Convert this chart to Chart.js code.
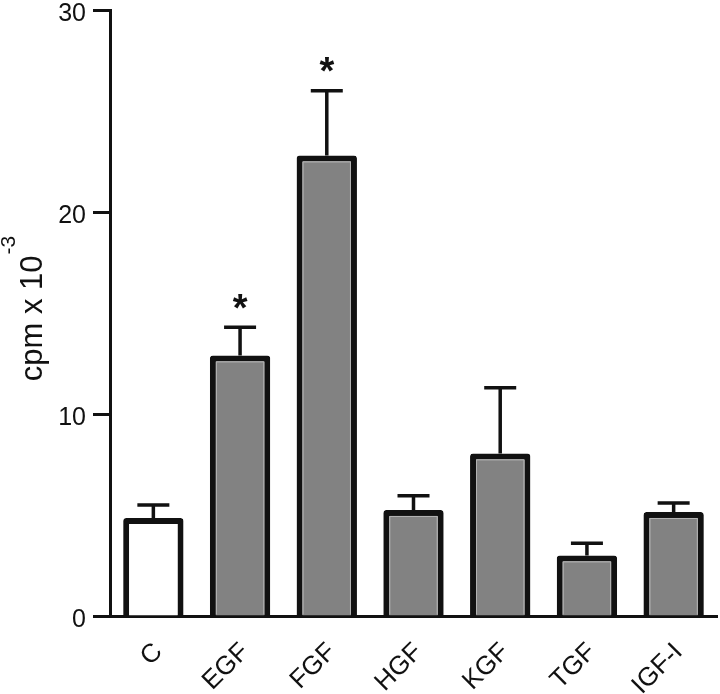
<!DOCTYPE html>
<html>
<head>
<meta charset="utf-8">
<script src="https://cdn.jsdelivr.net/npm/chart.js@4"></script>
<style>
  html, body { margin: 0; padding: 0; background: #fff; }
  #wrap { width: 720px; height: 694px; }
</style>
</head>
<body>
<div id="wrap"><canvas id="myChart" width="720" height="694"></canvas></div>
<script>
// дані
var categories = ['C', 'EGF', 'FGF', 'HGF', 'KGF', 'TGF', 'IGF-I'];
var cpmValues = [4.85, 12.9, 22.8, 5.25, 8.05, 3.0, 5.15];
var cpmErrors = [0.65, 1.4, 3.2, 0.7, 3.25, 0.6, 0.45];
var significant = [false, true, true, false, false, false, false];
var yTicks = [0, 10, 20, 30];

var barColors = categories.map(function (c, i) { return i === 0 ? '#ffffff' : '#828282'; });
var FONT = '"Liberation Sans", Arial, sans-serif';

// планки похибок, зірочки і світла внутрішня лінія стовпців
var errorBars = {
    id: 'errorBars',
    afterDatasetsDraw: function (chart) {
        var ctx = chart.ctx;
        var meta = chart.getDatasetMeta(0);
        var y = chart.scales.y;
        ctx.save();
        meta.data.forEach(function (bar, i) {
            if (i > 0) {
                var p = bar.getProps(['x', 'y', 'base', 'width'], true);
                ctx.strokeStyle = '#b4b4b4';
                ctx.lineWidth = 1;
                ctx.beginPath();
                ctx.moveTo(p.x - p.width / 2 + 6.5, p.base - 1);
                ctx.lineTo(p.x - p.width / 2 + 6.5, p.y + 6.5);
                ctx.lineTo(p.x + p.width / 2 - 6.5, p.y + 6.5);
                ctx.lineTo(p.x + p.width / 2 - 6.5, p.base - 1);
                ctx.stroke();
            }
            var top = y.getPixelForValue(cpmValues[i]);
            var hi = y.getPixelForValue(cpmValues[i] + cpmErrors[i]);
            ctx.strokeStyle = '#111';
            ctx.lineWidth = 3.5;
            ctx.beginPath();
            ctx.moveTo(bar.x, top);
            ctx.lineTo(bar.x, hi);
            ctx.moveTo(bar.x - 16, hi);
            ctx.lineTo(bar.x + 16, hi);
            ctx.stroke();
            if (significant[i]) {
                ctx.fillStyle = '#111';
                ctx.font = 'bold 38px ' + FONT;
                ctx.textAlign = 'center';
                ctx.textBaseline = 'middle';
                ctx.fillText('*', bar.x, hi - 17);
            }
        });
        ctx.restore();
    }
};

// підписи поділок обох осей
var tickLabels = {
    id: 'tickLabels',
    afterDraw: function (chart) {
        var ctx = chart.ctx;
        var xs = chart.scales.x;
        var ys = chart.scales.y;
        ctx.save();
        ctx.fillStyle = '#111';
        ctx.font = '25px ' + FONT;
        ctx.textAlign = 'right';
        ctx.textBaseline = 'alphabetic';
        yTicks.forEach(function (v) {
            ctx.fillText(String(v), ys.right - 24, ys.getPixelForValue(v) + 10.5);
        });
        ctx.font = '26px ' + FONT;
        ctx.textBaseline = 'middle';
        categories.forEach(function (c, i) {
            ctx.save();
            ctx.translate(xs.getPixelForValue(i) + 5, xs.top + 32);
            ctx.rotate(-Math.PI / 4);
            ctx.fillText(c, 0, 0);
            ctx.restore();
        });
        ctx.restore();
    }
};

// підпис осі Y з верхнім індексом
var yTitle = {
    id: 'yTitle',
    afterDraw: function (chart) {
        var ctx = chart.ctx;
        ctx.save();
        ctx.translate(29, 309);
        ctx.rotate(-Math.PI / 2);
        ctx.fillStyle = '#111';
        ctx.font = '31px ' + FONT;
        var main = 'cpm x 10';
        var w = ctx.measureText(main).width;
        ctx.font = '21px ' + FONT;
        var sup = '-3';
        var sw = ctx.measureText(sup).width;
        var start = -(w + sw) / 2;
        ctx.textAlign = 'left';
        ctx.textBaseline = 'alphabetic';
        ctx.font = '31px ' + FONT;
        ctx.fillText(main, start, 13);
        ctx.font = '21px ' + FONT;
        ctx.fillText(sup, start + w + 1, -14);
        ctx.restore();
    }
};

function renderChart() {
    var ctx = document.getElementById('myChart').getContext('2d');
    var myChart = new Chart(ctx, {
        type: 'bar',
        data: {
            labels: categories,
            datasets: [{
                data: cpmValues,
                backgroundColor: barColors,
                borderColor: '#111',
                borderWidth: 6,
                borderRadius: 3,
                barPercentage: 0.8,
                categoryPercentage: 0.87
            }]
        },
        options: {
            responsive: false,
            animation: false,
            layout: { padding: { top: 10, right: 3, left: 0, bottom: 0 } },
            plugins: { legend: { display: false }, tooltip: { enabled: false } },
            scales: {
                x: {
                    afterFit: function (s) {
                        s.height = 78;
                        s.paddingLeft = 0;
                        s.paddingRight = 0;
                    },
                    grid: { display: false, drawTicks: false },
                    border: { display: true, color: '#111', width: 3 },
                    ticks: { display: false }
                },
                y: {
                    min: 0,
                    max: 30,
                    afterFit: function (s) {
                        s.width = 110;
                        s.paddingTop = 0;
                        s.paddingBottom = 0;
                    },
                    afterBuildTicks: function (s) {
                        s.ticks = yTicks.map(function (v) { return { value: v }; });
                    },
                    grid: {
                        drawOnChartArea: false,
                        drawTicks: true,
                        tickLength: 17,
                        tickWidth: 3,
                        tickColor: '#111'
                    },
                    border: { display: true, color: '#111', width: 3 },
                    ticks: { display: false }
                }
            }
        },
        plugins: [errorBars, tickLabels, yTitle]
    });
}

renderChart();
</script>
</body>
</html>
